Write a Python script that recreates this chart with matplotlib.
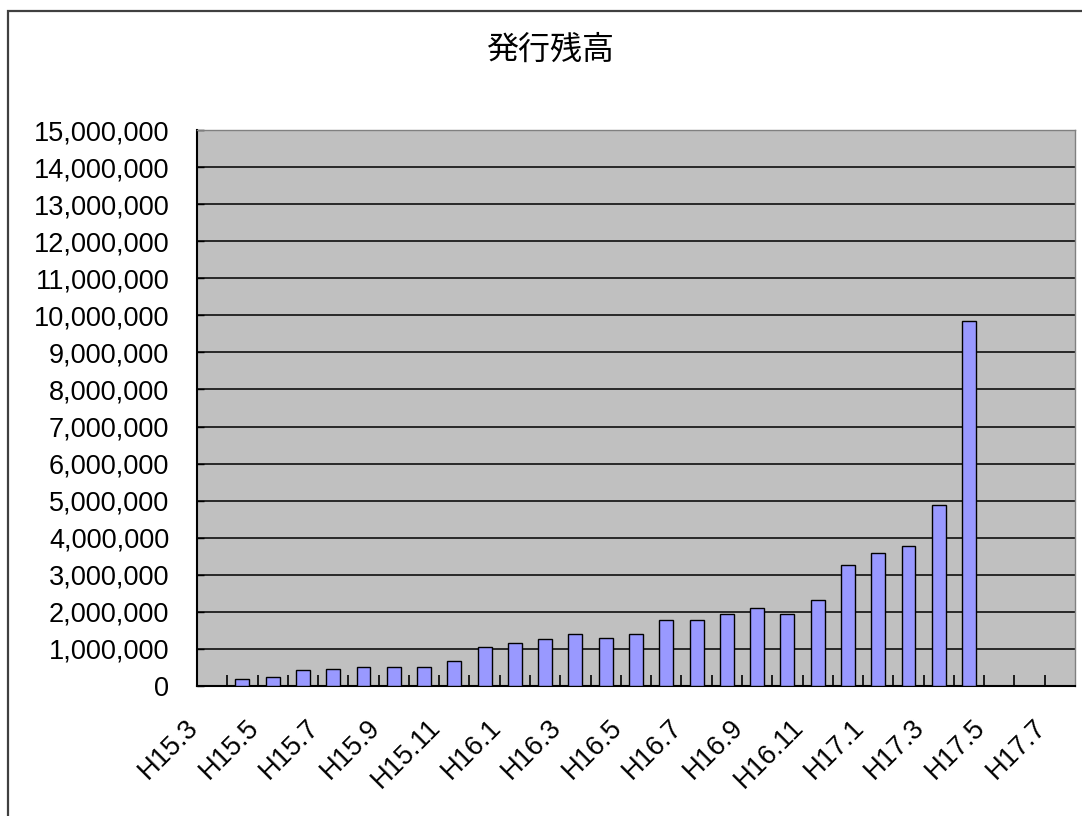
import matplotlib
matplotlib.use("Agg")
import matplotlib.pyplot as plt
from matplotlib.patches import Rectangle
from matplotlib.transforms import ScaledTranslation
import numpy as np

# ---- data ----
categories = ["H15.3", "H15.4", "H15.5", "H15.6", "H15.7", "H15.8", "H15.9", "H15.10",
              "H15.11", "H15.12", "H16.1", "H16.2", "H16.3", "H16.4", "H16.5", "H16.6",
              "H16.7", "H16.8", "H16.9", "H16.10", "H16.11", "H16.12", "H17.1", "H17.2",
              "H17.3", "H17.4", "H17.5", "H17.6", "H17.7"]
values = [0, 200000, 250000, 420000, 470000, 520000, 520000, 520000,
          680000, 1060000, 1170000, 1280000, 1390000, 1290000, 1410000, 1790000,
          1790000, 1950000, 2100000, 1950000, 2330000, 3260000, 3580000, 3790000,
          4880000, 9850000, 0, 0, 0]
tick_labels = ["H15.3", "", "H15.5", "", "H15.7", "", "H15.9", "", "H15.11", "",
               "H16.1", "", "H16.3", "", "H16.5", "", "H16.7", "", "H16.9", "",
               "H16.11", "", "H17.1", "", "H17.3", "", "H17.5", "", "H17.7"]
y_ticks = list(range(0, 15000001, 1000000))
title = "発行残高"

W, H = 1082, 816
fig = plt.figure(figsize=(W / 100, H / 100), dpi=100)

# outer chart border
fig.patches.append(Rectangle((7.5 / W, 0 - 0.01), 1.05, (H - 11) / H + 0.01,
                             transform=fig.transFigure, fill=False,
                             edgecolor="#404040", linewidth=1.6))

left, right, top, bottom = 197, 1075, 130, 686
ax = fig.add_axes([left / W, 1 - bottom / H, (right - left) / W, (bottom - top) / H])
ax.set_facecolor("#C0C0C0")

x = np.arange(len(categories))
heights = [v if v > 0 else np.nan for v in values]
ax.bar(x, heights, width=0.46, color="#9999FF", edgecolor="black", linewidth=1.0, zorder=3)

ax.set_xlim(-0.5, len(categories) - 0.5)
ax.set_ylim(0, 15000000)
ax.set_yticks(y_ticks)
ax.set_yticklabels([f"{v:,}" for v in y_ticks], fontfamily="Liberation Sans", fontsize=19.5)
ax.yaxis.grid(True, color="black", linewidth=1.1, zorder=1)
ax.set_axisbelow(True)
ax.tick_params(axis="y", direction="in", length=5, width=1.0, pad=20)

ax.set_xticks(x)
ax.set_xticklabels(tick_labels, rotation=45, ha="right", va="center",
                   rotation_mode="anchor", fontfamily="Liberation Sans", fontsize=19.5)
ax.tick_params(axis="x", which="major", length=0, pad=27)
ax.set_xticks(np.arange(0.5, len(categories) - 0.5, 1.0), minor=True)
ax.tick_params(axis="x", which="minor", direction="in", length=8, width=1.2, color="black")

offset = ScaledTranslation(-18 / 100, 0, fig.dpi_scale_trans)
for lab in ax.get_xticklabels():
    lab.set_transform(lab.get_transform() + offset)

for s in ["left", "bottom"]:
    ax.spines[s].set_color("black")
    ax.spines[s].set_linewidth(1.5)
for s in ["top", "right"]:
    ax.spines[s].set_color("#808080")
    ax.spines[s].set_linewidth(1.0)

fig.text(550 / W, 1 - 50 / H, title, ha="center", va="center",
         fontfamily=["Noto Sans CJK JP", "DejaVu Sans"], fontsize=23)

fig.savefig("out.png", dpi=100)
